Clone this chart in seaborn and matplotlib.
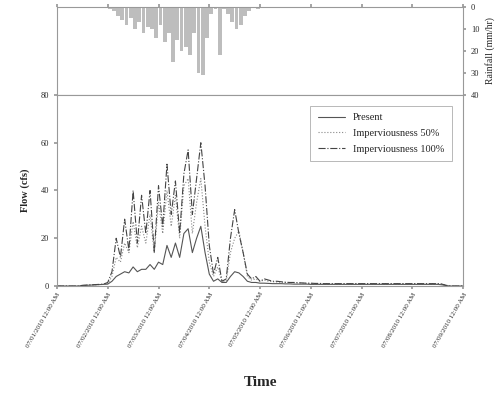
import numpy as np
import pandas as pd
import matplotlib
matplotlib.use("Agg")
import matplotlib.pyplot as plt
import seaborn as sns

# Datos (paso de 2 horas, 8 dias)
horas = np.arange(0, 194, 2)

lluvia = [0, 0, 0, 0, 0, 0, 0, 0, 0, 0, 0, 0,
          1, 2, 4, 6, 8, 5, 10, 7, 12, 9, 10, 14,
          8, 16, 12, 25, 15, 20, 18, 22, 12, 30, 31, 14,
          3, 1, 22, 1, 3, 7, 10, 8, 4, 2, 0.5, 1,
          0, 0, 0.5, 0, 0, 0.3, 0, 0, 0, 0, 0, 0,
          0, 0, 0, 0, 0, 0, 0, 0, 0, 0, 0, 0,
          0, 0, 0, 0, 0, 0, 0, 0, 0, 0, 0, 0,
          0, 0, 0, 0, 0, 0, 0, 0, 0, 0, 0, 0, 0]

caudal_actual = [0, 0, 0, 0, 0, 0, 0.2, 0.3, 0.4, 0.5, 0.6, 0.7,
                 0.8, 2, 4, 5, 6, 5.5, 8, 6, 7, 7, 9, 7,
                 10, 9, 17, 12, 18, 12, 22, 24, 14, 20, 25, 14,
                 5, 2, 3, 1.5, 1.5, 4, 6, 5.5, 4, 2, 1.5, 1.5,
                 1.2, 1.2, 1.1, 1, 1, 1, 0.9, 0.9, 0.8, 0.8, 0.8, 0.8,
                 0.7, 0.7, 0.7, 0.7, 0.7, 0.7, 0.7, 0.7, 0.7, 0.7, 0.7, 0.7,
                 0.7, 0.7, 0.7, 0.7, 0.7, 0.7, 0.7, 0.7, 0.7, 0.7, 0.7, 0.7,
                 0.7, 0.7, 0.7, 0.7, 0.7, 0.7, 0.7, 0.5, 0.2, 0, 0, 0, 0]

caudal_50 = [0, 0, 0, 0, 0, 0, 0.2, 0.3, 0.4, 0.5, 0.6, 0.7,
             1, 4, 12, 10, 18, 14, 27, 16, 25, 18, 30, 14,
             35, 22, 40, 25, 38, 20, 42, 45, 22, 35, 45, 25,
             10, 4, 8, 2, 2, 14, 20, 23, 14, 4, 2.5, 3,
             2, 2.5, 2, 1.8, 1.7, 1.6, 1.5, 1.4, 1.3, 1.2, 1.2, 1.1,
             1.1, 1, 1, 1, 1, 1, 1, 1, 1, 1, 1, 1,
             1, 1, 1, 1, 1, 1, 1, 1, 1, 1, 1, 1,
             1, 1, 1, 1, 1, 1, 1, 0.8, 0.3, 0, 0, 0, 0]

caudal_100 = [0, 0, 0, 0, 0, 0, 0.3, 0.4, 0.5, 0.6, 0.7, 0.8,
              1.5, 6, 20, 12, 28, 15, 40, 18, 38, 22, 40, 14,
              42, 25, 51, 30, 44, 22, 47, 57, 30, 45, 60, 42,
              17, 5, 12, 2, 3, 20, 32, 22, 14, 5, 3, 4,
              2, 3, 2.5, 2, 2, 1.8, 1.6, 1.5, 1.5, 1.4, 1.3, 1.2,
              1.2, 1.1, 1.1, 1, 1, 1, 1, 1, 1, 1, 1, 1,
              1, 1, 1, 1, 1, 1, 1, 1, 1, 1, 1, 1,
              1, 1, 1, 1, 1, 1, 1, 0.8, 0.3, 0, 0, 0, 0]

series = ["Present", "Imperviousness 50%", "Imperviousness 100%"]
etiquetas_x = ["07/01/2010 12:00 AM", "07/02/2010 12:00 AM", "07/03/2010 12:00 AM",
               "07/04/2010 12:00 AM", "07/05/2010 12:00 AM", "07/06/2010 12:00 AM",
               "07/07/2010 12:00 AM", "07/08/2010 12:00 AM", "07/09/2010 12:00 AM"]

df = pd.DataFrame({"hora": horas, series[0]: caudal_actual,
                   series[1]: caudal_50, series[2]: caudal_100})
df_largo = df.melt(id_vars="hora", var_name="serie", value_name="caudal")

sns.set_theme(style="ticks")
plt.rcParams["font.family"] = ["Liberation Serif", "DejaVu Serif"]

fig = plt.figure(figsize=(5.04, 3.94), dpi=100)
ax_r = fig.add_axes([0.113, 0.759, 0.806, 0.223])
ax = fig.add_axes([0.113, 0.274, 0.806, 0.485], sharex=ax_r)

gris = "#999999"

# Lluvia (invertida)
ax_r.bar(horas, lluvia, width=1.8, color="#bdbdbd", edgecolor="none", align="edge")
ax_r.set_ylim(40, 0)
ax_r.yaxis.tick_right()
ax_r.yaxis.set_label_position("right")
ax_r.set_yticks([0, 10, 20, 30, 40])
ax_r.set_ylabel("Rainfall (mm/hr)", fontsize=7, rotation=90, labelpad=4)
ax_r.tick_params(axis="y", labelsize=6, length=2, color=gris, right=True, left=False)
ax_r.tick_params(axis="x", labelbottom=False, bottom=False, top=True, length=2, color=gris)

# Caudales
estilos = {series[0]: "-", series[1]: ":", series[2]: "-."}
colores = {series[0]: "#555555", series[1]: "#888888", series[2]: "#444444"}
for s in series:
    sns.lineplot(data=df_largo[df_largo["serie"] == s], x="hora", y="caudal",
                 ax=ax, color=colores[s], linestyle=estilos[s], linewidth=0.8, label=s)

ax.set_ylim(0, 80)
ax.set_yticks([0, 20, 40, 60, 80])
ax.set_xlim(0, 192)
ax.set_xticks(np.arange(0, 193, 24))
ax.set_xticklabels(etiquetas_x, rotation=60, ha="right", rotation_mode="anchor", fontsize=5)
ax.tick_params(axis="y", labelsize=6, length=2, color=gris)
ax.tick_params(axis="x", length=2, color=gris, pad=2)
ax.set_xlabel("Time", fontsize=11, fontweight="bold", labelpad=20)
ax.set_ylabel("Flow (cfs)", fontsize=7.5, fontweight="bold", labelpad=8)

for a in (ax, ax_r):
    for sp in a.spines.values():
        sp.set_color(gris)
        sp.set_linewidth(0.8)

leg = ax.legend(loc="upper right", fontsize=7.5, frameon=True, fancybox=False,
                borderpad=0.7, handlelength=2.6, labelspacing=0.6, handletextpad=0.8,
                bbox_to_anchor=(0.985, 0.97))
leg.get_frame().set_edgecolor(gris)
leg.get_frame().set_linewidth(0.6)

fig.savefig("out.png", dpi=100)
plt.close()
